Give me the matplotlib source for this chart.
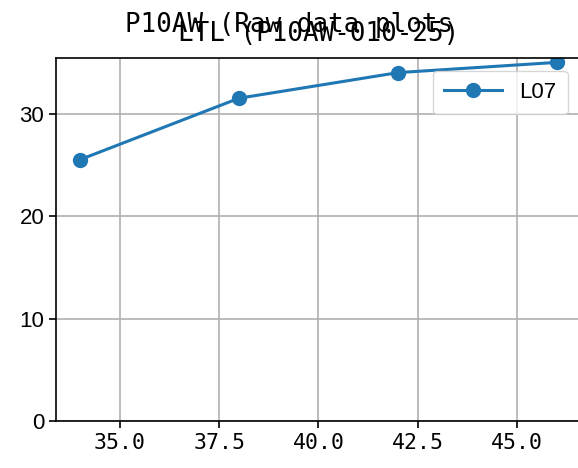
import matplotlib
matplotlib.use("Agg")
import matplotlib.pyplot as plt

x_vals = [34, 38, 42, 46]
y_vals = [25.5, 31.5, 34.0, 35.0]
series_label = "L07"
suptitle = "P10AW (Raw data plots"
title = "LTL (P10AW-010-25)"
xticks = [35.0, 37.5, 40.0, 42.5, 45.0]
yticks = [0, 10, 20, 30]

base = 15.5
mono = "DejaVu Sans Mono"
sans = "Liberation Sans"

fig = plt.figure(figsize=(5.78, 4.68), dpi=100)
ax = fig.add_axes([56/578, (468-421)/468, (581-56)/578, (421-57.5)/468])

ax.plot(x_vals, y_vals, marker="o", color="#1f77b4", linewidth=2.2, markersize=10, label=series_label)
ax.set_ylim(bottom=0)
ax.set_xticks(xticks)
ax.set_xticklabels([f"{v:.1f}" for v in xticks], fontfamily=mono, fontsize=base)
ax.set_yticks(yticks)
ax.set_yticklabels([str(v) for v in yticks], fontfamily=sans, fontsize=base + 0.5)
ax.grid(True, color="#b0b0b0", linewidth=1.2)
ax.tick_params(length=5, width=1.2)
for s in ax.spines.values():
    s.set_linewidth(1.2)

ax.set_title(title, fontfamily=mono, fontsize=base * 1.2, pad=12)
fig.suptitle(suptitle, fontfamily=mono, fontsize=base * 1.2, y=0.975)
ax.legend(loc="upper right", prop={"family": sans, "size": 16},
          handlelength=2.6, borderaxespad=0.6, borderpad=0.5)

fig.savefig("out.png", dpi=100)
